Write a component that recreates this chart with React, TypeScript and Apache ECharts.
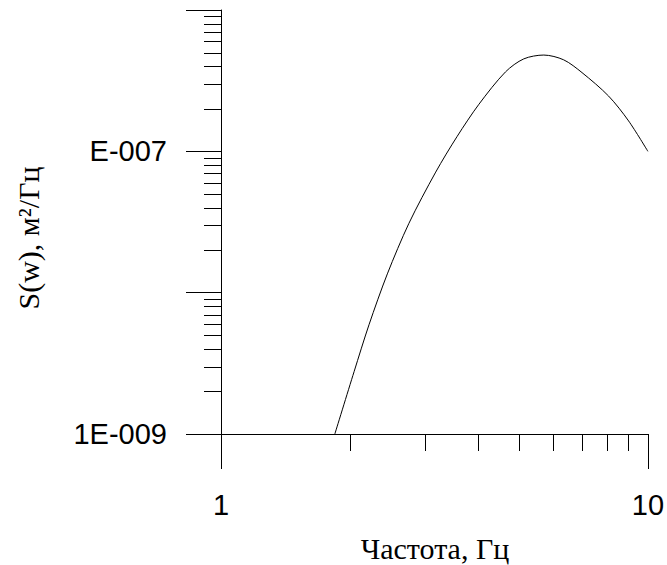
import React, { useEffect, useRef } from "react";
import * as echarts from "echarts";

// Frequency, Hz
const freq = [1.848, 2.05, 2.222, 2.453, 2.756, 3.184, 3.575, 4.02, 4.64, 5.12, 5.704, 6.35, 7.01, 8.092, 9.013, 10];
// Spectral density S(w), m^2/Hz
const psd = [1.0e-9, 2.76e-9, 5.93e-9, 1.358e-8, 3.097e-8, 7.13e-8, 1.276e-7, 2.153e-7, 3.65e-7, 4.51e-7, 4.8e-7, 4.44e-7, 3.606e-7, 2.46e-7, 1.641e-7, 1.0e-7];

const xTickValues = [1, 10];
const xTickLabels = ["1", "10"];
const yTickValues = [1e-9, 1e-8, 1e-7, 1e-6];
const yTickLabels = ["1E-009", "", "E-007", ""];

const xMinorTicks = [2, 3, 4, 5, 6, 7, 8, 9];
const yMinorTicks = [
  2e-9, 3e-9, 4e-9, 5e-9, 6e-9, 7e-9, 8e-9, 9e-9,
  2e-8, 3e-8, 4e-8, 5e-8, 6e-8, 7e-8, 8e-8, 9e-8,
  2e-7, 3e-7, 4e-7, 5e-7, 6e-7, 7e-7, 8e-7, 9e-7,
];

const xTitle = "Частота, Гц";
const yTitle = "S(w), м²/Гц";

function labelFor(values: number[], labels: string[], v: number) {
  const lv = Math.log10(v);
  for (let i = 0; i < values.length; i++) {
    if (Math.abs(Math.log10(values[i]) - lv) < 1e-6) return labels[i];
  }
  return "";
}

export default function App() {
  const ref = useRef<HTMLDivElement>(null);
  useEffect(() => {
    document.body.style.margin = "0";
    const chart = echarts.init(ref.current!, undefined, { renderer: "svg" });
    const sans = "'Liberation Sans', Arial, sans-serif";
    const serif = "'Liberation Serif', 'Times New Roman', serif";
    chart.setOption({
      animation: false,
      backgroundColor: "#fff",
      grid: { left: 221, right: 18, top: 10, bottom: 131 },
      xAxis: {
        type: "log",
        logBase: 10,
        min: 1,
        max: 10,
        axisLine: { show: true, lineStyle: { color: "#000", width: 1 } },
        axisTick: { show: true, length: 35, lineStyle: { color: "#000", width: 1 } },
        axisLabel: {
          margin: 56,
          fontFamily: sans,
          fontSize: 29,
          color: "#000",
          formatter: (v: number) => labelFor(xTickValues, xTickLabels, v),
        },
        splitLine: { show: false },
      },
      yAxis: {
        type: "log",
        logBase: 10,
        min: 1e-9,
        max: 1e-6,
        axisLine: { show: true, lineStyle: { color: "#000", width: 1 } },
        axisTick: { show: true, length: 35, lineStyle: { color: "#000", width: 1 } },
        axisLabel: {
          margin: 54,
          fontFamily: sans,
          fontSize: 29,
          color: "#000",
          formatter: (v: number) => labelFor(yTickValues, yTickLabels, v),
        },
        splitLine: { show: false },
      },
      graphic: [
        {
          type: "text",
          x: 435,
          y: 548,
          style: {
            text: xTitle,
            fontFamily: serif,
            fontSize: 30,
            fill: "#000",
            align: "center",
            verticalAlign: "middle",
          },
        },
        {
          type: "text",
          x: 28,
          y: 238,
          rotation: Math.PI / 2,
          style: {
            text: yTitle,
            fontFamily: serif,
            fontSize: 30,
            fill: "#000",
            align: "center",
            verticalAlign: "middle",
          },
        },
      ],
      series: [
        {
          type: "line",
          data: freq.map((f, i) => [f, psd[i]]),
          smooth: 0.3,
          symbol: "none",
          lineStyle: { color: "#000", width: 1 },
          clip: false,
        },
        {
          type: "custom",
          clip: false,
          silent: true,
          data: xMinorTicks.map((v) => [v, 1e-9]),
          renderItem: (params: any, api: any) => {
            const p = api.coord([api.value(0), api.value(1)]);
            const x = Math.round(p[0]) + 0.5;
            return {
              type: "line",
              shape: { x1: x, y1: p[1], x2: x, y2: p[1] + 17 },
              style: { stroke: "#000", lineWidth: 1 },
            };
          },
        },
        {
          type: "custom",
          clip: false,
          silent: true,
          data: yMinorTicks.map((v) => [1, v]),
          renderItem: (params: any, api: any) => {
            const p = api.coord([api.value(0), api.value(1)]);
            const y = Math.round(p[1]) + 0.5;
            return {
              type: "line",
              shape: { x1: p[0] - 17, y1: y, x2: p[0], y2: y },
              style: { stroke: "#000", lineWidth: 1 },
            };
          },
        },
      ],
    });
    return () => chart.dispose();
  }, []);
  return <div ref={ref} style={{ width: 667, height: 565 }} />;
}
